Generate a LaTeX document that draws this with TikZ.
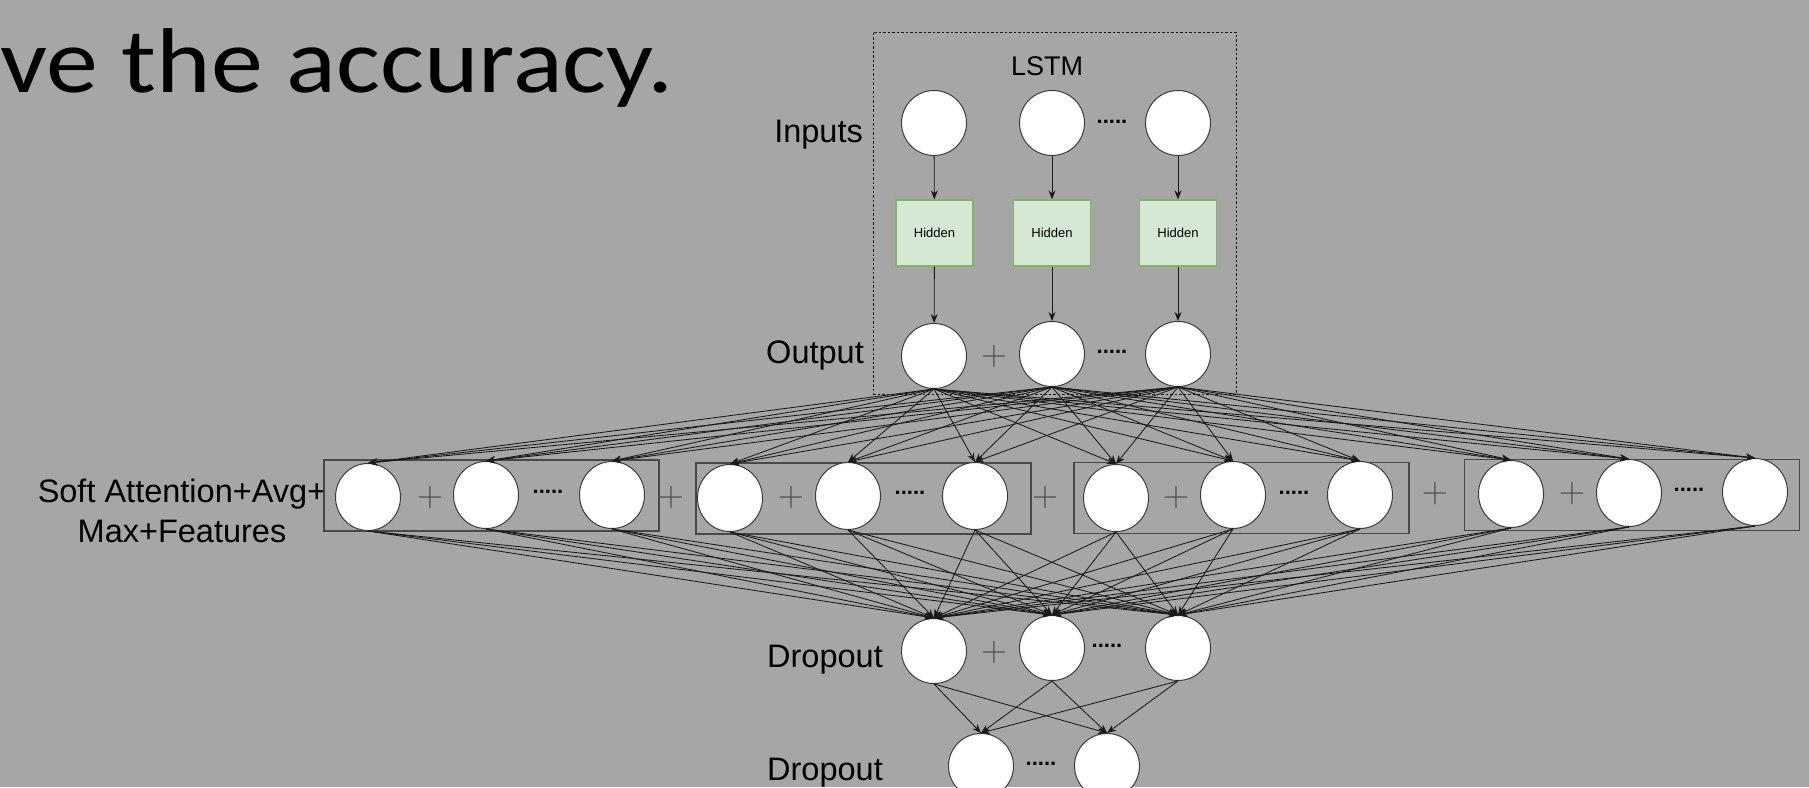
\documentclass[tikz,border=0pt]{standalone}
\usepackage{fontspec}
\setmainfont{Liberation Sans}
\newfontfamily\slidefont{Carlito}
\newfontfamily\plusfont{Latin Modern Roman}
\usetikzlibrary{arrows.meta,shapes.geometric}
\definecolor{slideGray}{HTML}{A6A6A6}
\definecolor{hidFill}{HTML}{D5E8D4}
\definecolor{hidBorder}{HTML}{82B366}
\definecolor{nnLine}{HTML}{1A1A1A}
\tikzset{
    % neurons and boxes
    neuron/.style={circle,draw=nnLine!85,fill=white,line width=1pt,minimum size=65pt,inner sep=0pt},
    attn/.style={ellipse,draw=nnLine!85,fill=white,line width=1pt,minimum width=65pt,minimum height=67pt,inner sep=0pt},
    hiddenbox/.style={rectangle,draw=hidBorder,fill=hidFill,line width=1.2pt,minimum width=77pt,minimum height=66pt,inner sep=0pt,font=\fontsize{13}{15}\selectfont},
    groupbox/.style={rectangle,draw=nnLine!80,line width=1.2pt,minimum width=335pt,minimum height=71pt,inner sep=0pt},
    lstmbox/.style={rectangle,draw=nnLine,dash pattern=on 2.5pt off 2pt,line width=0.8pt,minimum width=363pt,minimum height=362pt,inner sep=0pt},
    % texts
    layerlabel/.style={inner sep=0pt,font=\fontsize{32.5}{40}\selectfont},
    plussign/.style={inner sep=0pt,text=black!70,font=\plusfont\fontsize{36}{36}\selectfont},
    moredots/.style={inner sep=0pt,font=\fontsize{22}{22}\selectfont\bfseries},
    % connectors
    link/.style={-{Stealth[length=9pt,width=7pt]},line width=0.85pt,draw=nnLine}
}

\begin{document}
\begin{tikzpicture}[x=1pt,y=-1pt]
    \useasboundingbox (0,0) rectangle (1809,787);
    \fill[slideGray] (0,0) rectangle (1809,787);

    % Slide text behind the figure
    \node[anchor=base west,inner sep=0pt,font=\slidefont\fontsize{92}{110}\selectfont] (slidetext) at (0.5,92) {\scalebox{1.13}[1]{ve the accuracy.}};

    % LSTM block
    \node[lstmbox] (lstm) at (1054.5,213) {};
    \node[anchor=base,inner sep=0pt,font=\fontsize{27}{30}\selectfont] (lstmtitle) at (1047,75) {LSTM};

    % Inputs
    \node[layerlabel,anchor=base east] (inlabel) at (863,142) {Inputs};
    \node[neuron] (in1) at (934,123) {};
    \node[neuron] (in2) at (1052,123) {};
    \node[neuron] (in3) at (1178,123) {};
    \node[moredots] (indots) at (1112,122) {.....};

    % Hidden cells
    \node[hiddenbox] (hid1) at (934.5,233) {Hidden};
    \node[hiddenbox] (hid2) at (1052,233) {Hidden};
    \node[hiddenbox] (hid3) at (1178,233) {Hidden};

    % Output
    \node[layerlabel,anchor=base east] (outlabel) at (864,363) {Output};
    \node[neuron] (out1) at (934,356) {};
    \node[neuron] (out2) at (1052,354) {};
    \node[neuron] (out3) at (1178,354) {};
    \node[plussign] (outplus) at (994,357) {+};
    \node[moredots] (outdots) at (1112,352) {.....};

    \foreach \i in {1,2,3} {
        \draw[link] (in\i) -- (hid\i);
        \draw[link] (hid\i) -- (out\i);
    }

    % Soft attention + avg + max + features
    \node[layerlabel,align=center] (salabel) at (182,511) {Soft Attention+Avg+\\Max+Features};
    \node[groupbox] (grp1) at (491.5,495.5) {};
    \node[groupbox] (grp2) at (863.5,498.5) {};
    \node[groupbox] (grp3) at (1241.5,498) {};
    \node[groupbox] (grp4) at (1632,495) {};

    \node[attn] (sa1) at (368,497) {};
    \node[attn] (sa2) at (486,495) {};
    \node[attn] (sa3) at (612,495) {};
    \node[attn] (sa4) at (730,498) {};
    \node[attn] (sa5) at (848,496) {};
    \node[attn] (sa6) at (975,496) {};
    \node[attn] (sa7) at (1116,498) {};
    \node[attn] (sa8) at (1233,495) {};
    \node[attn] (sa9) at (1360,495) {};
    \node[attn] (sa10) at (1511,494) {};
    \node[attn] (sa11) at (1629,493) {};
    \node[attn] (sa12) at (1755,492) {};

    \node[plussign] (saplus1) at (430,498) {+};
    \node[plussign] (saplus2) at (671,498) {+};
    \node[plussign] (saplus3) at (791,498) {+};
    \node[plussign] (saplus4) at (1045,498) {+};
    \node[plussign] (saplus5) at (1176,498) {+};
    \node[plussign] (saplus6) at (1435,494) {+};
    \node[plussign] (saplus7) at (1572,494) {+};
    \node[moredots] (sadots1) at (548,492) {.....};
    \node[moredots] (sadots2) at (910,493) {.....};
    \node[moredots] (sadots3) at (1294,493) {.....};
    \node[moredots] (sadots4) at (1689,490) {.....};

    % Dropout layers
    \node[layerlabel,anchor=base east] (droplabel) at (883,667) {Dropout};
    \node[neuron] (dr1) at (934,651) {};
    \node[neuron] (dr2) at (1052,648) {};
    \node[neuron] (dr3) at (1178,648) {};
    \node[plussign] (drplus) at (994,653) {+};
    \node[moredots] (drdots) at (1107,646) {.....};

    \node[layerlabel,anchor=base east] (droplabeltwo) at (883,780) {Dropout};
    \node[neuron] (dd1) at (981,766) {};
    \node[neuron] (dd2) at (1107,766) {};
    \node[moredots] (dddots) at (1041,764) {.....};

    % Fully connected links
    \foreach \o in {1,2,3}
        \foreach \s in {1,...,12}
            \draw[link] (out\o.south) -- (sa\s.north);
    \foreach \s in {1,...,12}
        \foreach \d in {1,2,3}
            \draw[link] (sa\s.south) -- (dr\d.north);
    \foreach \d in {1,2,3}
        \foreach \e in {1,2}
            \draw[link] (dr\d.south) -- (dd\e.north);
\end{tikzpicture}
\end{document}
